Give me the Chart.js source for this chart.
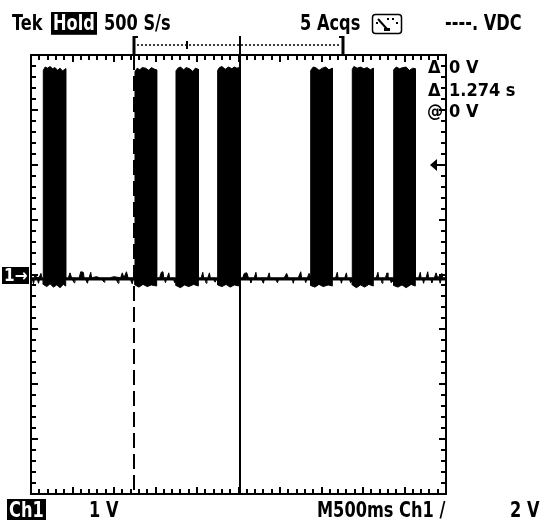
<!DOCTYPE html>
<html>
<head>
<meta charset="utf-8">
<script src="https://cdn.jsdelivr.net/npm/chart.js@4/dist/chart.umd.min.js"></script>
<style>
  html, body { margin: 0; padding: 0; background: #fff; }
  #scope {
    position: relative; width: 543px; height: 520px; overflow: hidden;
    font-family: "DejaVu Sans Condensed", "DejaVu Sans", sans-serif;
    font-weight: bold; font-size: 18px; color: #000;
  }
  #scope canvas { position: absolute; left: 0; top: 0; }
  .t { position: absolute; white-space: pre; line-height: 18px; }
  .tall { transform: scaleY(1.2); transform-origin: 0 15px; }
  .inv { background: #000; color: #fff; }
</style>
</head>
<body>
<div id="scope">
  <canvas id="c" width="543" height="520"></canvas>

  <span class="t tall" style="left:12px; top:15px;">Tek</span>
  <span class="t tall inv" style="left:51px; top:15px; padding:0 2px 1px 2px;">Hold</span>
  <span class="t tall" style="left:104px; top:15px;">500 S/s</span>
  <span class="t tall" style="left:300px; top:15px;">5 Acqs</span>
  <span class="t tall" style="left:445px; top:15px;">----. VDC</span>

  <span class="t" style="left:428px; top:58px;">Δ</span>
  <span class="t" style="left:449px; top:58px;">0 V</span>
  <span class="t" style="left:428px; top:81px;">Δ</span>
  <span class="t" style="left:449px; top:81px;">1.274 s</span>
  <span class="t" style="left:427px; top:102px;">@</span>
  <span class="t" style="left:449px; top:102px;">0 V</span>

  <span id="gnd" class="t inv" style="left:2px; top:268px; font-size:17px; line-height:17px; padding:0 2px;">1→</span>

  <span class="t tall inv" style="left:7px; top:502px; padding:0 2px;">Ch1</span>
  <span class="t tall" style="left:89px; top:502px;">1 V</span>
  <span class="t tall" style="left:317px; top:502px;">M500ms Ch1 /</span>
  <span class="t tall" style="left:510px; top:502px;">2 V</span>
</div>

<script>
// Horizontal: 500 ms/div over 10 divisions; vertical: 1 V/div over 8 divisions.
const timePerDiv = 0.5;
const voltsPerDiv = 1;
const xDivisions = 10;
const yDivisions = 8;
const timeStart = 0;
const voltTop = 4.0;

// Cursor positions (s): their separation is the 1.274 s readout.
const cursorTimes = [1.24, 2.514];
// Trigger level (V) and channel ground reference (V).
const triggerLevel = 2;
const groundLevel = 0;
// Record window bracket shown above the graticule (s) and its centre mark.
const recordWindow = [1.24, 3.76];
const recordMark = 1.88;

// Upper edge of the captured trace: [time s, volts]
const traceTop = [
  [0.00,-0.06],[0.04,-0.06],[0.05,0.00],[0.06,-0.06],[0.10,-0.05],[0.12,0.02],[0.13,-0.06],[0.148,-0.06],
  [0.148,3.72],[0.17,3.78],[0.20,3.76],[0.23,3.79],[0.26,3.75],[0.29,3.77],[0.32,3.72],[0.35,3.76],[0.38,3.71],[0.418,3.75],[0.418,-0.06],
  [0.45,-0.06],[0.47,0.03],[0.49,-0.06],[0.58,-0.06],[0.60,0.05],[0.63,0.04],[0.64,-0.06],[0.70,-0.06],[0.72,0.04],[0.73,-0.06],
  [0.79,-0.04],[0.83,-0.06],[0.95,-0.06],[1.00,-0.04],[1.08,-0.06],[1.10,0.03],[1.12,-0.06],[1.15,0.05],[1.17,-0.06],[1.253,-0.06],
  [1.253,3.70],[1.28,3.76],[1.31,3.73],[1.34,3.77],[1.38,3.76],[1.42,3.72],[1.45,3.77],[1.49,3.74],[1.514,3.73],[1.514,-0.06],
  [1.55,-0.06],[1.57,0.04],[1.59,0.05],[1.60,-0.06],[1.64,-0.06],[1.66,0.03],[1.67,-0.06],[1.747,-0.06],
  [1.747,3.71],[1.77,3.76],[1.80,3.78],[1.84,3.73],[1.87,3.77],[1.91,3.75],[1.95,3.70],[1.98,3.76],[2.016,3.74],[2.016,-0.06],
  [2.05,-0.06],[2.07,0.04],[2.08,-0.06],[2.13,-0.06],[2.15,0.03],[2.16,-0.06],[2.249,-0.06],
  [2.249,3.72],[2.27,3.77],[2.30,3.79],[2.34,3.74],[2.38,3.78],[2.42,3.75],[2.45,3.78],[2.48,3.76],[2.51,3.77],[2.51,-0.06],
  [2.55,-0.06],[2.57,0.02],[2.60,0.03],[2.62,-0.06],[2.69,-0.06],[2.71,0.04],[2.72,-0.06],[2.85,-0.06],[2.87,0.03],[2.88,-0.06],
  [3.05,-0.06],[3.08,0.02],[3.10,-0.06],[3.22,-0.06],[3.25,0.05],[3.26,-0.06],[3.33,-0.06],[3.35,0.02],[3.37,-0.06],
  [3.37,3.72],[3.40,3.78],[3.43,3.77],[3.47,3.72],[3.51,3.76],[3.55,3.78],[3.59,3.73],[3.63,3.76],[3.63,-0.06],
  [3.67,-0.06],[3.69,0.04],[3.70,-0.06],[3.78,-0.06],[3.80,0.03],[3.81,-0.06],[3.871,-0.06],
  [3.871,3.74],[3.89,3.79],[3.93,3.76],[3.97,3.78],[4.01,3.75],[4.05,3.77],[4.09,3.73],[4.124,3.76],[4.124,-0.06],
  [4.16,-0.06],[4.18,0.04],[4.19,-0.06],[4.27,-0.06],[4.29,0.03],[4.30,-0.06],[4.37,-0.06],
  [4.37,3.73],[4.40,3.78],[4.44,3.75],[4.48,3.77],[4.52,3.78],[4.56,3.72],[4.60,3.76],[4.63,3.75],[4.63,-0.06],
  [4.67,-0.06],[4.69,0.04],[4.70,-0.06],[4.76,-0.06],[4.78,0.05],[4.79,-0.06],[4.86,-0.06],[4.88,0.03],[4.90,-0.06],
  [4.95,0.02],[4.96,-0.06],[5.00,-0.06]
];

// Lower edge of the captured trace: [time s, volts]
const traceBottom = [
  [0.00,-0.10],[0.02,-0.10],[0.03,-0.17],[0.04,-0.10],[0.08,-0.10],[0.09,-0.16],[0.10,-0.10],[0.148,-0.10],
  [0.148,-0.18],[0.19,-0.22],[0.23,-0.17],[0.27,-0.23],[0.31,-0.19],[0.35,-0.24],[0.39,-0.18],[0.418,-0.21],[0.418,-0.10],
  [0.50,-0.10],[0.52,-0.15],[0.53,-0.10],[0.66,-0.10],[0.68,-0.16],[0.69,-0.10],[0.86,-0.10],[0.88,-0.14],[0.89,-0.10],
  [1.03,-0.10],[1.05,-0.16],[1.06,-0.10],[1.20,-0.10],[1.22,-0.17],[1.23,-0.10],[1.253,-0.10],
  [1.253,-0.19],[1.30,-0.23],[1.35,-0.18],[1.40,-0.22],[1.45,-0.19],[1.514,-0.21],[1.514,-0.10],
  [1.61,-0.10],[1.62,-0.15],[1.63,-0.10],[1.72,-0.10],[1.73,-0.15],[1.747,-0.10],
  [1.747,-0.20],[1.80,-0.24],[1.85,-0.19],[1.90,-0.22],[1.96,-0.18],[2.016,-0.21],[2.016,-0.10],
  [2.10,-0.10],[2.11,-0.16],[2.12,-0.10],[2.20,-0.10],[2.22,-0.14],[2.23,-0.10],[2.249,-0.10],
  [2.249,-0.19],[2.30,-0.22],[2.35,-0.18],[2.40,-0.23],[2.45,-0.19],[2.51,-0.21],[2.51,-0.10],
  [2.64,-0.10],[2.65,-0.15],[2.66,-0.10],[2.78,-0.10],[2.80,-0.16],[2.81,-0.10],[2.95,-0.10],[2.97,-0.15],[2.98,-0.10],
  [3.15,-0.10],[3.16,-0.16],[3.17,-0.10],[3.30,-0.10],[3.31,-0.15],[3.32,-0.10],[3.37,-0.10],
  [3.37,-0.20],[3.42,-0.23],[3.47,-0.18],[3.52,-0.22],[3.58,-0.19],[3.63,-0.21],[3.63,-0.10],
  [3.73,-0.10],[3.74,-0.16],[3.75,-0.10],[3.84,-0.10],[3.85,-0.15],[3.871,-0.10],
  [3.871,-0.19],[3.92,-0.24],[3.97,-0.19],[4.02,-0.23],[4.07,-0.18],[4.124,-0.21],[4.124,-0.10],
  [4.22,-0.10],[4.23,-0.16],[4.24,-0.10],[4.33,-0.10],[4.34,-0.15],[4.37,-0.10],
  [4.37,-0.20],[4.42,-0.23],[4.47,-0.19],[4.52,-0.24],[4.58,-0.18],[4.63,-0.21],[4.63,-0.10],
  [4.72,-0.10],[4.73,-0.16],[4.74,-0.10],[4.82,-0.10],[4.83,-0.15],[4.84,-0.10],[4.92,-0.10],[4.93,-0.16],[4.94,-0.10],[5.00,-0.10]
];

const timeEnd = timeStart + xDivisions * timePerDiv;
const voltBottom = voltTop - yDivisions * voltsPerDiv;

function seg(ctx, x1, y1, x2, y2) {
  ctx.beginPath(); ctx.moveTo(x1, y1); ctx.lineTo(x2, y2); ctx.stroke();
}

// Graticule frame, cursors, record bracket, trigger arrow and meter icon.
const scopeOverlay = {
  id: 'scopeOverlay',
  afterDatasetsDraw(chart) {
    const { ctx, chartArea: a, scales: { x, y } } = chart;
    ctx.save();
    ctx.strokeStyle = '#000';
    ctx.fillStyle = '#000';

    // cursor 1 (dashed) and cursor 2 (solid)
    const c1 = Math.round(x.getPixelForValue(cursorTimes[0]));
    const c2 = Math.round(x.getPixelForValue(cursorTimes[1]));
    ctx.lineWidth = 2;
    ctx.setLineDash([15, 6]);
    seg(ctx, c1, a.top, c1, a.bottom);
    ctx.setLineDash([]);
    seg(ctx, c2, 36, c2, a.bottom);

    // frame
    ctx.lineWidth = 2;
    ctx.strokeRect(Math.round(a.left), Math.round(a.top), Math.round(a.right - a.left), Math.round(a.bottom - a.top));

    // minor / major ticks along the edges
    ctx.lineWidth = 2;
    for (let k = 0; k <= xDivisions * 5; k++) {
      const px = Math.round(x.getPixelForValue(timeStart + k * timePerDiv / 5));
      const len = k % 5 === 0 ? 7 : 5;
      seg(ctx, px, a.top, px, a.top + len);
      seg(ctx, px, a.bottom, px, a.bottom - len);
    }
    for (let k = 0; k <= yDivisions * 5; k++) {
      const py = Math.round(y.getPixelForValue(voltTop - k * voltsPerDiv / 5));
      const len = k % 5 === 0 ? 7 : 5;
      seg(ctx, a.left, py, a.left + len, py);
      seg(ctx, a.right, py, a.right - len, py);
    }

    // record window bracket above the graticule
    const r0 = Math.round(x.getPixelForValue(recordWindow[0]));
    const r1 = Math.round(x.getPixelForValue(recordWindow[1]));
    const rm = Math.round(x.getPixelForValue(recordMark));
    ctx.lineWidth = 3;
    seg(ctx, r0, 36, r0, a.top);
    seg(ctx, r1, 36, r1, a.top);
    ctx.lineWidth = 2;
    seg(ctx, r0, 37, r0 + 4, 37);
    seg(ctx, r1, 37, r1 - 4, 37);
    ctx.lineWidth = 1.5;
    ctx.setLineDash([2, 2]);
    seg(ctx, r0 + 3, 45, r1 - 3, 45);
    ctx.setLineDash([]);
    ctx.lineWidth = 2;
    seg(ctx, rm, 41, rm, 49);

    // trigger level arrow on the right edge
    const ty = Math.round(y.getPixelForValue(triggerLevel));
    ctx.beginPath();
    ctx.moveTo(430, ty);
    ctx.lineTo(437, ty - 6);
    ctx.lineTo(437, ty + 6);
    ctx.closePath();
    ctx.fill();
    ctx.lineWidth = 2;
    seg(ctx, 436, ty, 440, ty);

    // meter mode icon in the header
    ctx.lineWidth = 1.5;
    ctx.beginPath();
    ctx.roundRect(372.5, 14.5, 29, 19, 3);
    ctx.stroke();
    ctx.lineWidth = 2;
    seg(ctx, 378, 19, 387, 29);
    ctx.fillRect(384, 28, 6, 3);
    ctx.fillRect(376, 22, 2, 2);
    ctx.fillRect(387, 18, 2, 2);
    ctx.fillRect(392, 18, 2, 2);
    ctx.fillRect(396, 22, 2, 2);
    ctx.restore();
  }
};

const chart = new Chart(document.getElementById('c'), {
  type: 'line',
  data: {
    datasets: [
      {
        label: 'Ch1 upper',
        data: traceTop.map(([t, v]) => ({ x: t, y: v })),
        borderColor: '#000',
        backgroundColor: '#000',
        borderWidth: 1,
        fill: '+1'
      },
      {
        label: 'Ch1 lower',
        data: traceBottom.map(([t, v]) => ({ x: t, y: v })),
        borderColor: '#000',
        backgroundColor: '#000',
        borderWidth: 1,
        fill: false
      }
    ]
  },
  options: {
    responsive: false,
    animation: false,
    devicePixelRatio: 1,
    layout: { padding: { left: 31, right: 97, top: 55, bottom: 26 } },
    elements: { point: { radius: 0 }, line: { tension: 0 } },
    scales: {
      x: { type: 'linear', min: timeStart, max: timeEnd, display: false },
      y: { type: 'linear', min: voltBottom, max: voltTop, display: false }
    },
    plugins: { legend: { display: false }, tooltip: { enabled: false } }
  },
  plugins: [scopeOverlay]
});

// place the channel ground marker at the 0 V level
const gy = chart.scales.y.getPixelForValue(groundLevel);
document.getElementById('gnd').style.top = Math.round(gy - 8) + 'px';
</script>
</body>
</html>
